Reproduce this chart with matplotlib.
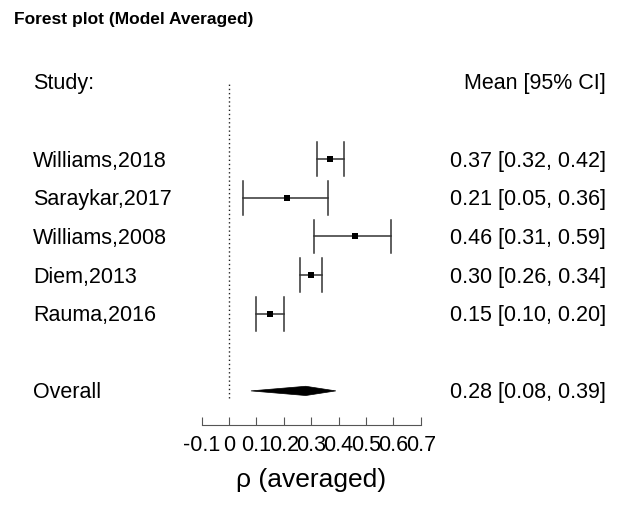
import matplotlib
matplotlib.use("Agg")
import matplotlib.pyplot as plt
import matplotlib.transforms as mtransforms
from matplotlib.patches import Polygon

plt.rcParams["font.family"] = ["Liberation Sans", "DejaVu Sans"]

# data
studies = ["Williams,2018", "Saraykar,2017", "Williams,2008", "Diem,2013", "Rauma,2016"]
means = [0.37, 0.21, 0.46, 0.30, 0.15]
lower = [0.32, 0.05, 0.31, 0.26, 0.10]
upper = [0.42, 0.36, 0.59, 0.34, 0.20]
overall_label = "Overall"
overall_mean = 0.28
overall_lower = 0.08
overall_upper = 0.39
tick_vals = [-0.1, 0, 0.1, 0.2, 0.3, 0.4, 0.5, 0.6, 0.7]
tick_labels = ["-0.1", "0", "0.1", "0.2", "0.3", "0.4", "0.5", "0.6", "0.7"]

W, H = 628, 515
fig = plt.figure(figsize=(W / 100, H / 100), dpi=100)

# axes placed in pixel terms
left_px, right_px = 201.7, 420.7
top_px, bot_px = 60.0, 425.0
ax = fig.add_axes([left_px / W, 1 - bot_px / H, (right_px - left_px) / W, (bot_px - top_px) / H])

n = len(studies)
rows = list(range(n, 0, -1))  # 5..1
overall_row = -1
header_row = n + 2
pitch = 38.6
ax.set_xlim(-0.1, 0.7)
ax.set_ylim(1 - (bot_px - 313.7) / pitch, 1 + (313.7 - top_px) / pitch)

# zero line
ax.plot([0, 0], [-1.18, header_row], color="#222222", lw=1.0,
        linestyle=(0, (1, 2)), clip_on=False)

cap = 0.44
line_col = "#333333"
for r, m, lo, hi in zip(rows, means, lower, upper):
    ax.plot([lo, hi], [r, r], color=line_col, lw=1.1)
    ax.plot([lo, lo], [r - cap, r + cap], color=line_col, lw=1.1)
    ax.plot([hi, hi], [r - cap, r + cap], color=line_col, lw=1.1)
    ax.plot([m], [r], marker="s", color="black", ms=4, mew=0)

dh = 0.12
ax.add_patch(Polygon([[overall_lower, overall_row], [overall_mean, overall_row + dh],
                      [overall_upper, overall_row], [overall_mean, overall_row - dh]],
                     closed=True, facecolor="black", edgecolor="black", lw=0.5))

for s in ["top", "right", "left"]:
    ax.spines[s].set_visible(False)
ax.spines["bottom"].set_color("#555555")
ax.spines["bottom"].set_bounds(-0.1, 0.7)
ax.set_yticks([])
ax.set_xticks(tick_vals)
ax.set_xticklabels(tick_labels)
ax.tick_params(axis="x", direction="in", length=6, color="#555555",
               labelsize=15.5, pad=7)

# text columns, baseline shifted below row centre
blend = mtransforms.blended_transform_factory(fig.transFigure, ax.transData)
tr = mtransforms.offset_copy(blend, fig=fig, y=-7.4, units="dots")
fs = 15.5
ax.text(33 / W, header_row, "Study:", transform=tr, ha="left", va="baseline", fontsize=fs)
ax.text(606 / W, header_row, "Mean [95% CI]", transform=tr, ha="right", va="baseline", fontsize=fs)
for r, name, m, lo, hi in zip(rows, studies, means, lower, upper):
    ax.text(33 / W, r, name, transform=tr, ha="left", va="baseline", fontsize=fs)
    ax.text(606 / W, r, f"{m:.2f} [{lo:.2f}, {hi:.2f}]", transform=tr,
            ha="right", va="baseline", fontsize=fs)
ax.text(33 / W, overall_row, overall_label, transform=tr, ha="left", va="baseline", fontsize=fs)
ax.text(606 / W, overall_row,
        f"{overall_mean:.2f} [{overall_lower:.2f}, {overall_upper:.2f}]",
        transform=tr, ha="right", va="baseline", fontsize=fs)

fig.text(311 / W, 1 - 487 / H, "ρ (averaged)", ha="center", va="baseline", fontsize=19)
fig.text(14 / W, 1 - 24 / H, "Forest plot (Model Averaged)", ha="left", va="baseline",
         fontsize=12.5, fontweight="bold")

fig.savefig("out.png", dpi=100)
